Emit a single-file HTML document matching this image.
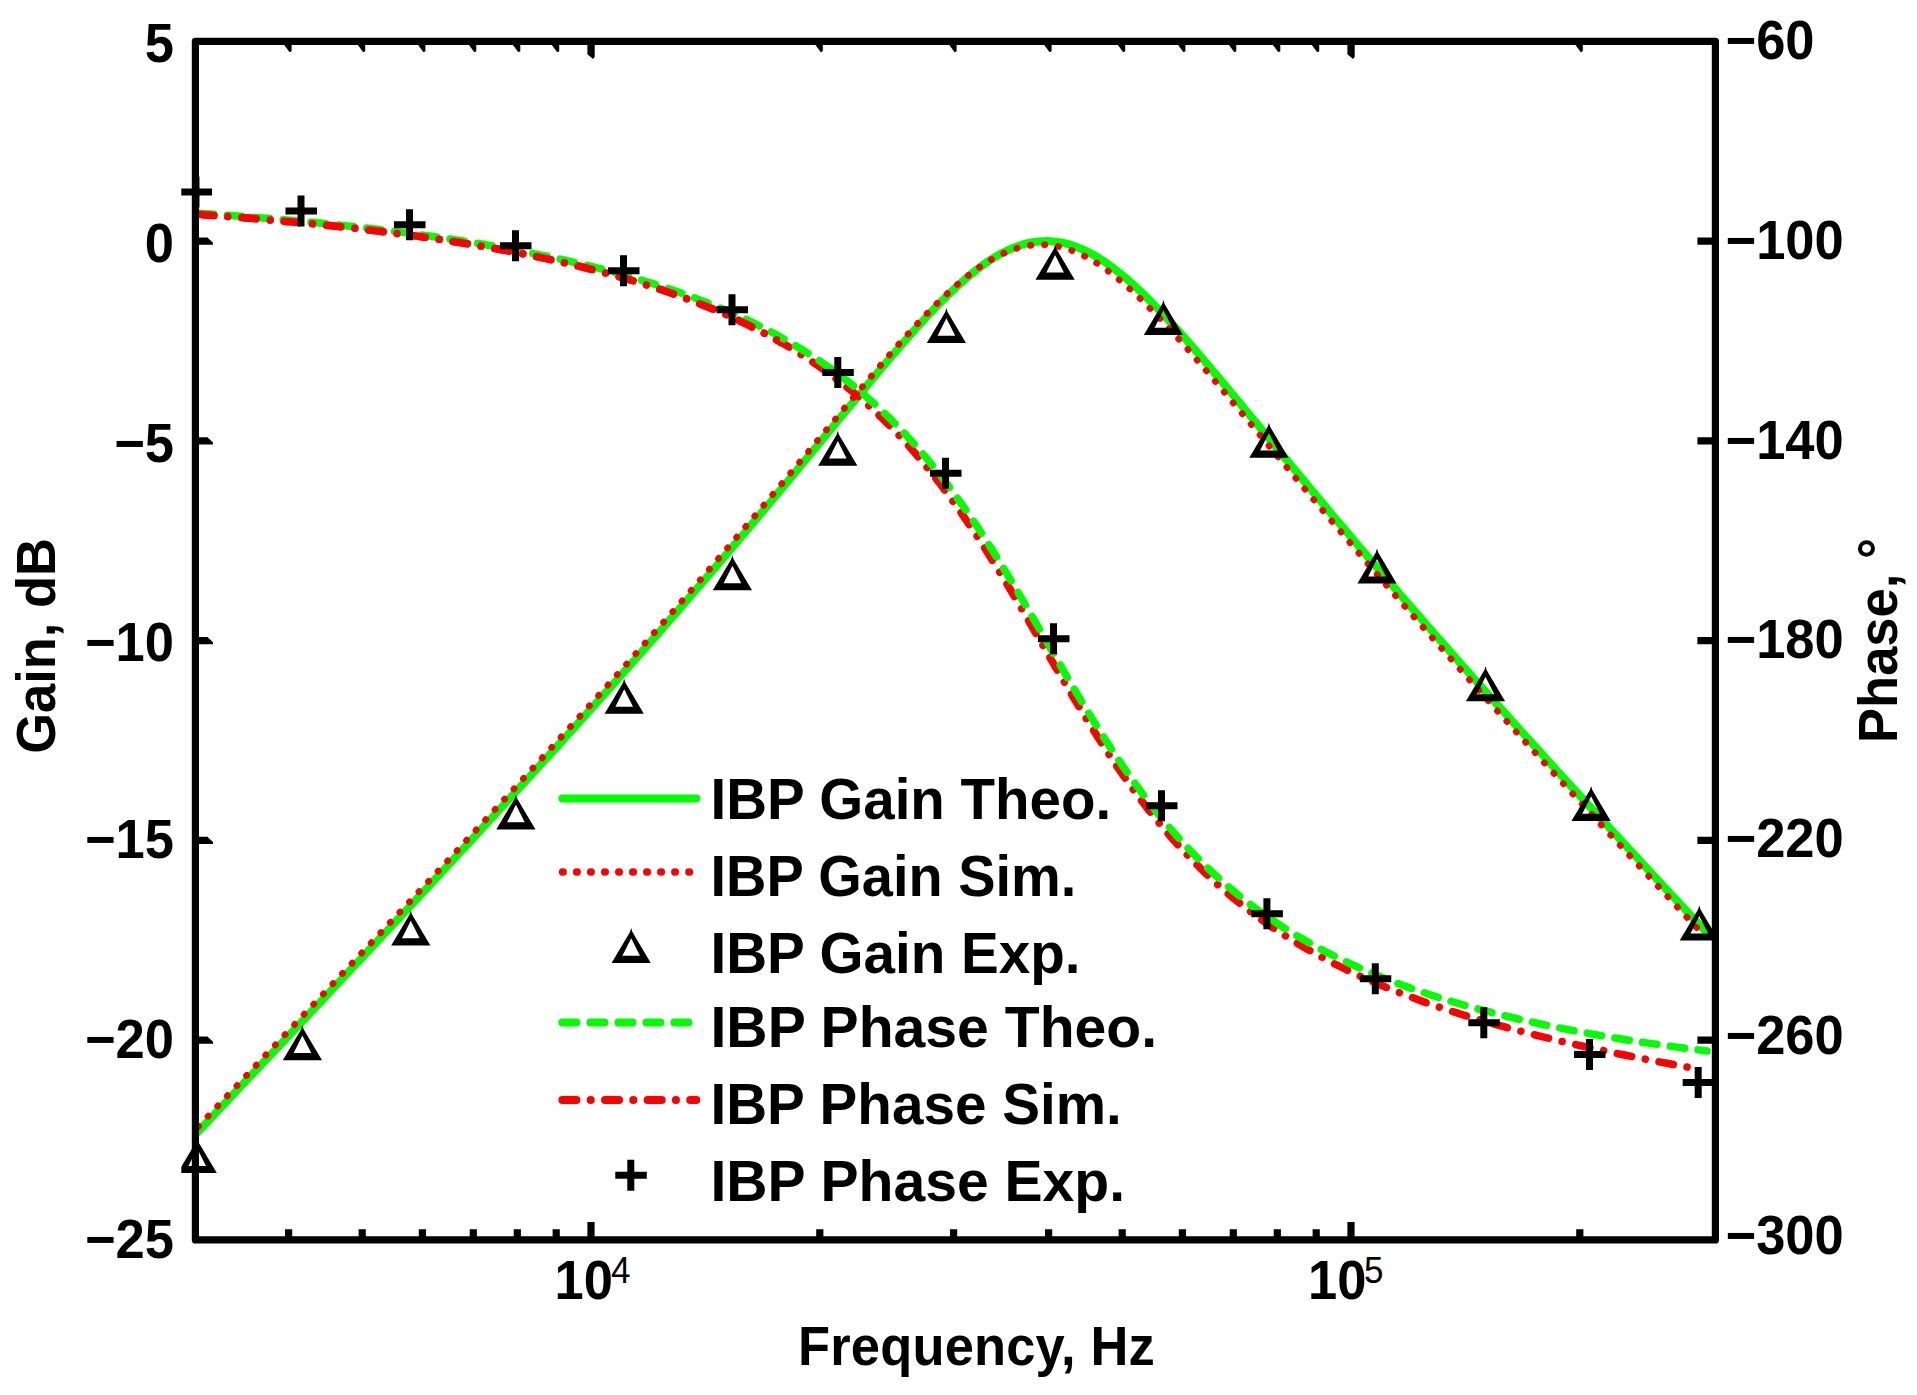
<!DOCTYPE html>
<html lang="en"><head><meta charset="utf-8"><title>IBP Gain and Phase</title>
<style>html,body{margin:0;padding:0;background:#fff}body{width:1917px;height:1395px;overflow:hidden}svg{display:block}text{font-family:"Liberation Sans",Arial,Helvetica,sans-serif;font-weight:bold;fill:#000}</style></head><body>
<svg width="1917" height="1395" viewBox="0 0 1917 1395">
<rect width="1917" height="1395" fill="#fff"/>
<defs><clipPath id="cp"><rect x="181.3" y="30" width="1537.7" height="1222"/></clipPath>
<clipPath id="cpk"><rect x="965" y="200" width="165" height="90"/></clipPath><clipPath id="cpl"><rect x="180" y="150" width="600" height="250"/></clipPath>
<path id="tri" d="M0 -35 L1.2 -31 L19.6 0 L-19.6 0 L-1.2 -31 Z M0 -24.6 L-8.8 -7.1 L8.8 -7.1 Z" fill="#000" fill-rule="evenodd"/>
<path id="plus" d="M-15.5 0 H16 M0 -15.5 V15.5" stroke="#000" stroke-width="7" fill="none"/>
</defs>
<path d="M591.0 1239.9 V1221.9 M1351.0 1239.9 V1221.9 M288.6 1239.9 V1229.2 M362.2 1239.9 V1229.2 M422.4 1239.9 V1229.2 M473.3 1239.9 V1229.2 M517.3 1239.9 V1229.2 M556.2 1239.9 V1229.2 M819.8 1239.9 V1229.2 M953.6 1239.9 V1229.2 M1048.6 1239.9 V1229.2 M1122.2 1239.9 V1229.2 M1182.4 1239.9 V1229.2 M1233.3 1239.9 V1229.2 M1277.3 1239.9 V1229.2 M1316.2 1239.9 V1229.2 M1579.8 1239.9 V1229.2 M1715.4 241.1 H1697.4 M1715.4 440.9 H1697.4 M1715.4 640.6 H1697.4 M1715.4 840.4 H1697.4 M1715.4 1040.2 H1697.4" stroke="#000" stroke-width="7.2" fill="none"/>
<path d="M587.4 41.3 H594.7 V56.8 L593.0 58.9 L587.4 54.3 Z M1347.4 41.3 H1354.7 V56.8 L1353.0 58.9 L1347.4 54.3 Z M284.1 41.3 H291.6 V51.3 L289.6 52.3 L284.1 44.8 Z M357.7 41.3 H365.2 V51.3 L363.2 52.3 L357.7 44.8 Z M417.9 41.3 H425.4 V51.3 L423.4 52.3 L417.9 44.8 Z M468.8 41.3 H476.3 V51.3 L474.3 52.3 L468.8 44.8 Z M512.8 41.3 H520.3 V51.3 L518.3 52.3 L512.8 44.8 Z M551.7 41.3 H559.2 V51.3 L557.2 52.3 L551.7 44.8 Z M815.3 41.3 H822.8 V51.3 L820.8 52.3 L815.3 44.8 Z M949.1 41.3 H956.6 V51.3 L954.6 52.3 L949.1 44.8 Z M1044.1 41.3 H1051.6 V51.3 L1049.6 52.3 L1044.1 44.8 Z M1117.7 41.3 H1125.2 V51.3 L1123.2 52.3 L1117.7 44.8 Z M1177.9 41.3 H1185.4 V51.3 L1183.4 52.3 L1177.9 44.8 Z M1228.8 41.3 H1236.3 V51.3 L1234.3 52.3 L1228.8 44.8 Z M1272.8 41.3 H1280.3 V51.3 L1278.3 52.3 L1272.8 44.8 Z M1311.7 41.3 H1319.2 V51.3 L1317.2 52.3 L1311.7 44.8 Z M1575.3 41.3 H1582.8 V51.3 L1580.8 52.3 L1575.3 44.8 Z M195.4 237.5 H207.4 L213.0 242.7 V244.7 H195.4 Z M195.4 437.3 H207.4 L213.0 442.5 V444.5 H195.4 Z M195.4 637.0 H207.4 L213.0 642.2 V644.2 H195.4 Z M195.4 836.8 H207.4 L213.0 842.0 V844.0 H195.4 Z M195.4 1036.6 H207.4 L213.0 1041.8 V1043.8 H195.4 Z" fill="#000"/>
<g clip-path="url(#cp)" fill="none" stroke-linejoin="round">
<path d="M196.4 1133.4 L201.4 1128.1 L206.5 1122.8 L211.5 1117.5 L216.6 1112.1 L221.6 1106.8 L226.6 1101.5 L231.7 1096.1 L236.7 1090.8 L241.7 1085.4 L246.8 1080.1 L251.8 1074.8 L256.9 1069.4 L261.9 1064.1 L266.9 1058.7 L272.0 1053.4 L277.0 1048.1 L282.1 1042.7 L287.1 1037.4 L292.1 1032.0 L297.2 1026.7 L302.2 1021.3 L307.3 1015.9 L312.3 1010.6 L317.3 1005.2 L322.4 999.9 L327.4 994.5 L332.4 989.1 L337.5 983.8 L342.5 978.4 L347.6 973.0 L352.6 967.6 L357.6 962.3 L362.7 956.9 L367.7 951.5 L372.8 946.1 L377.8 940.7 L382.8 935.3 L387.9 930.0 L392.9 924.6 L397.9 919.2 L403.0 913.8 L408.0 908.4 L413.1 902.9 L418.1 897.5 L423.1 892.1 L428.2 886.7 L433.2 881.3 L438.3 875.9 L443.3 870.4 L448.3 865.0 L453.4 859.6 L458.4 854.1 L463.4 848.7 L468.5 843.2 L473.5 837.8 L478.6 832.3 L483.6 826.8 L488.6 821.4 L493.7 815.9 L498.7 810.4 L503.8 804.9 L508.8 799.4 L513.8 793.9 L518.9 788.4 L523.9 782.9 L529.0 777.4 L534.0 771.9 L539.0 766.4 L544.1 760.8 L549.1 755.3 L554.1 749.8 L559.2 744.2 L564.2 738.6 L569.3 733.1 L574.3 727.5 L579.3 721.9 L584.4 716.3 L589.4 710.7 L594.5 705.1 L599.5 699.5 L604.5 693.8 L609.6 688.2 L614.6 682.6 L619.6 676.9 L624.7 671.2 L629.7 665.6 L634.8 659.9 L639.8 654.2 L644.8 648.5 L649.9 642.7 L654.9 637.0 L660.0 631.3 L665.0 625.5 L670.0 619.7 L675.1 614.0 L680.1 608.2 L685.2 602.4 L690.2 596.5 L695.2 590.7 L700.3 584.9 L705.3 579.0 L710.3 573.2 L715.4 567.3 L720.4 561.4 L725.5 555.5 L730.5 549.5 L735.5 543.6 L740.6 537.7 L745.6 531.7 L750.7 525.7 L755.7 519.7 L760.7 513.7 L765.8 507.7 L770.8 501.7 L775.8 495.7 L780.9 489.6 L785.9 483.5 L791.0 477.5 L796.0 471.4 L801.0 465.3 L806.1 459.2 L811.1 453.1 L816.2 447.0 L821.2 440.9 L826.2 434.8 L831.3 428.7 L836.3 422.5 L841.3 416.4 L846.4 410.3 L851.4 404.2 L856.5 398.1 L861.5 392.1 L866.5 386.0 L871.6 380.0 L876.6 373.9 L881.7 368.0 L886.7 362.0 L891.7 356.1 L896.8 350.3 L901.8 344.4 L906.9 338.7 L911.9 333.0 L916.9 327.4 L922.0 321.9 L927.0 316.4 L932.0 311.1 L937.1 305.8 L942.1 300.7 L947.2 295.7 L952.2 290.9 L957.2 286.2 L962.3 281.7 L967.3 277.3 L972.4 273.2 L977.4 269.2 L982.4 265.4 L987.5 261.9 L992.5 258.6 L997.5 255.6 L1002.6 252.8 L1007.6 250.3 L1012.7 248.1 L1017.7 246.2 L1022.7 244.5 L1027.8 243.2 L1032.8 242.2 L1037.9 241.5 L1042.9 241.2 L1047.9 241.1 L1053.0 241.4 L1058.0 242.0 L1063.1 242.9 L1068.1 244.2 L1073.1 245.7 L1078.2 247.6 L1083.2 249.7 L1088.2 252.1 L1093.3 254.8 L1098.3 257.8 L1103.4 261.0 L1108.4 264.5 L1113.4 268.2 L1118.5 272.1 L1123.5 276.2 L1128.6 280.5 L1133.6 285.0 L1138.6 289.6 L1143.7 294.5 L1148.7 299.4 L1153.7 304.5 L1158.8 309.7 L1163.8 315.0 L1168.9 320.4 L1173.9 325.9 L1178.9 331.5 L1184.0 337.2 L1189.0 342.9 L1194.1 348.7 L1199.1 354.6 L1204.1 360.5 L1209.2 366.4 L1214.2 372.4 L1219.2 378.4 L1224.3 384.4 L1229.3 390.5 L1234.4 396.5 L1239.4 402.6 L1244.4 408.7 L1249.5 414.8 L1254.5 420.9 L1259.6 427.0 L1264.6 433.2 L1269.6 439.3 L1274.7 445.4 L1279.7 451.5 L1284.8 457.6 L1289.8 463.7 L1294.8 469.8 L1299.9 475.9 L1304.9 481.9 L1309.9 488.0 L1315.0 494.1 L1320.0 500.1 L1325.1 506.1 L1330.1 512.2 L1335.1 518.2 L1340.2 524.1 L1345.2 530.1 L1350.3 536.1 L1355.3 542.0 L1360.3 548.0 L1365.4 553.9 L1370.4 559.8 L1375.4 565.7 L1380.5 571.6 L1385.5 577.5 L1390.6 583.3 L1395.6 589.2 L1400.6 595.0 L1405.7 600.8 L1410.7 606.6 L1415.8 612.4 L1420.8 618.2 L1425.8 624.0 L1430.9 629.7 L1435.9 635.5 L1441.0 641.2 L1446.0 646.9 L1451.0 652.7 L1456.1 658.4 L1461.1 664.1 L1466.1 669.7 L1471.2 675.4 L1476.2 681.1 L1481.3 686.7 L1486.3 692.4 L1491.3 698.0 L1496.4 703.6 L1501.4 709.2 L1506.5 714.8 L1511.5 720.4 L1516.5 726.0 L1521.6 731.6 L1526.6 737.2 L1531.6 742.7 L1536.7 748.3 L1541.7 753.8 L1546.8 759.4 L1551.8 764.9 L1556.8 770.4 L1561.9 776.0 L1566.9 781.5 L1572.0 787.0 L1577.0 792.5 L1582.0 798.0 L1587.1 803.5 L1592.1 809.0 L1597.1 814.5 L1602.2 819.9 L1607.2 825.4 L1612.3 830.9 L1617.3 836.3 L1622.3 841.8 L1627.4 847.2 L1632.4 852.7 L1637.5 858.1 L1642.5 863.6 L1647.5 869.0 L1652.6 874.4 L1657.6 879.9 L1662.7 885.3 L1667.7 890.7 L1672.7 896.1 L1677.8 901.5 L1682.8 906.9 L1687.8 912.3 L1692.9 917.7 L1697.9 923.1 L1703.0 928.5 L1708.0 933.9" stroke="#00ff00" stroke-width="8"/>
<path d="M198.4 1126.5 L203.4 1121.1 L208.4 1115.8 L213.5 1110.5 L218.5 1105.2 L223.5 1099.9 L228.5 1094.6 L233.5 1089.3 L238.5 1084.0 L243.6 1078.6 L248.6 1073.3 L253.6 1068.0 L258.6 1062.7 L263.6 1057.4 L268.7 1052.0 L273.7 1046.7 L278.7 1041.4 L283.7 1036.1 L288.7 1030.7 L293.8 1025.4 L298.8 1020.1 L303.8 1014.7 L308.8 1009.4 L313.8 1004.1 L318.8 998.7 L323.9 993.4 L328.9 988.0 L333.9 982.7 L338.9 977.3 L343.9 972.0 L349.0 966.6 L354.0 961.3 L359.0 955.9 L364.0 950.6 L369.0 945.2 L374.1 939.8 L379.1 934.5 L384.1 929.1 L389.1 923.7 L394.1 918.4 L399.1 913.0 L404.2 907.6 L409.2 902.2 L414.2 896.8 L419.2 891.4 L424.2 886.0 L429.3 880.6 L434.3 875.2 L439.3 869.8 L444.3 864.4 L449.3 859.0 L454.4 853.6 L459.4 848.2 L464.4 842.7 L469.4 837.3 L474.4 831.9 L479.4 826.4 L484.5 821.0 L489.5 815.5 L494.5 810.1 L499.5 804.6 L504.5 799.2 L509.6 793.7 L514.6 788.2 L519.6 782.7 L524.6 777.2 L529.6 771.7 L534.7 766.2 L539.7 760.7 L544.7 755.2 L549.7 749.7 L554.7 744.2 L559.7 738.6 L564.8 733.1 L569.8 727.5 L574.8 722.0 L579.8 716.4 L584.8 710.8 L589.9 705.3 L594.9 699.7 L599.9 694.1 L604.9 688.5 L609.9 682.8 L614.9 677.2 L620.0 671.6 L625.0 665.9 L630.0 660.3 L635.0 654.6 L640.0 648.9 L645.1 643.2 L650.1 637.5 L655.1 631.8 L660.1 626.1 L665.1 620.4 L670.2 614.6 L675.2 608.9 L680.2 603.1 L685.2 597.3 L690.2 591.5 L695.2 585.7 L700.3 579.9 L705.3 574.1 L710.3 568.2 L715.3 562.4 L720.3 556.5 L725.4 550.6 L730.4 544.7 L735.4 538.8 L740.4 532.9 L745.4 527.0 L750.5 521.0 L755.5 515.1 L760.5 509.1 L765.5 503.2 L770.5 497.2 L775.5 491.2 L780.6 485.2 L785.6 479.1 L790.6 473.1 L795.6 467.1 L800.6 461.0 L805.7 455.0 L810.7 448.9 L815.7 442.9 L820.7 436.8 L825.7 430.8 L830.8 424.7 L835.8 418.7 L840.8 412.6 L845.8 406.6 L850.8 400.6 L855.8 394.6 L860.9 388.6 L865.9 382.6 L870.9 376.7 L875.9 370.7 L880.9 364.9 L886.0 359.0 L891.0 353.2 L896.0 347.5 L901.0 341.8 L906.0 336.2 L911.1 330.7 L916.1 325.2 L921.1 319.8 L926.1 314.5 L931.1 309.4 L936.1 304.3 L941.2 299.4 L946.2 294.6 L951.2 290.0 L956.2 285.5 L961.2 281.2 L966.3 277.0 L971.3 273.1 L976.3 269.4 L981.3 265.9 L986.3 262.6 L991.3 259.6 L996.4 256.8 L1001.4 254.3 L1006.4 252.0 L1011.4 250.1 L1016.4 248.4 L1021.5 247.0 L1026.5 245.9 L1031.5 245.2 L1036.5 244.7 L1041.5 244.6 L1046.6 244.8 L1051.6 245.3 L1056.6 246.1 L1061.6 247.2 L1066.6 248.7 L1071.6 250.4 L1076.7 252.4 L1081.7 254.7 L1086.7 257.2 L1091.7 260.1 L1096.7 263.1 L1101.8 266.5 L1106.8 270.0 L1111.8 273.8 L1116.8 277.8 L1121.8 281.9 L1126.9 286.3 L1131.9 290.8 L1136.9 295.4 L1141.9 300.3 L1146.9 305.2 L1151.9 310.3 L1157.0 315.5 L1162.0 320.8 L1167.0 326.2 L1172.0 331.6 L1177.0 337.2 L1182.1 342.8 L1187.1 348.5 L1192.1 354.3 L1197.1 360.1 L1202.1 365.9 L1207.2 371.8 L1212.2 377.7 L1217.2 383.6 L1222.2 389.6 L1227.2 395.6 L1232.2 401.6 L1237.3 407.6 L1242.3 413.7 L1247.3 419.7 L1252.3 425.8 L1257.3 431.8 L1262.4 437.9 L1267.4 443.9 L1272.4 450.0 L1277.4 456.1 L1282.4 462.1 L1287.5 468.1 L1292.5 474.2 L1297.5 480.2 L1302.5 486.2 L1307.5 492.2 L1312.5 498.2 L1317.6 504.2 L1322.6 510.2 L1327.6 516.1 L1332.6 522.1 L1337.6 528.0 L1342.7 534.0 L1347.7 539.9 L1352.7 545.8 L1357.7 551.7 L1362.7 557.6 L1367.7 563.4 L1372.8 569.3 L1377.8 575.1 L1382.8 580.9 L1387.8 586.8 L1392.8 592.6 L1397.9 598.3 L1402.9 604.1 L1407.9 609.9 L1412.9 615.6 L1417.9 621.4 L1423.0 627.1 L1428.0 632.8 L1433.0 638.5 L1438.0 644.2 L1443.0 649.9 L1448.0 655.6 L1453.1 661.3 L1458.1 666.9 L1463.1 672.6 L1468.1 678.2 L1473.1 683.8 L1478.2 689.4 L1483.2 695.1 L1488.2 700.7 L1493.2 706.2 L1498.2 711.8 L1503.3 717.4 L1508.3 723.0 L1513.3 728.5 L1518.3 734.1 L1523.3 739.6 L1528.3 745.1 L1533.4 750.7 L1538.4 756.2 L1543.4 761.7 L1548.4 767.2 L1553.4 772.7 L1558.5 778.2 L1563.5 783.7 L1568.5 789.2 L1573.5 794.6 L1578.5 800.1 L1583.6 805.6 L1588.6 811.0 L1593.6 816.5 L1598.6 821.9 L1603.6 827.4 L1608.6 832.8 L1613.7 838.3 L1618.7 843.7 L1623.7 849.1 L1628.7 854.5 L1633.7 860.0 L1638.8 865.4 L1643.8 870.8 L1648.8 876.2 L1653.8 881.6 L1658.8 887.0 L1663.9 892.4 L1668.9 897.8 L1673.9 903.2 L1678.9 908.5 L1683.9 913.9 L1688.9 919.3 L1694.0 924.7 L1699.0 930.0 L1704.0 935.4" stroke="#ff0000" stroke-width="6.6" stroke-linecap="round" stroke-dasharray="0.5 13.5"/>
<use href="#tri" x="197.2" y="1173.1"/>
<use href="#tri" x="302.4" y="1060.2"/>
<use href="#tri" x="410.8" y="945.4"/>
<use href="#tri" x="515.9" y="829.4"/>
<use href="#tri" x="624.2" y="713.8"/>
<use href="#tri" x="732.4" y="590.3"/>
<use href="#tri" x="837.8" y="465.7"/>
<use href="#tri" x="946.4" y="342.9"/>
<use href="#tri" x="1055.1" y="279.7"/>
<use href="#tri" x="1163.4" y="334.9"/>
<use href="#tri" x="1268.9" y="457.7"/>
<use href="#tri" x="1377.0" y="583.5"/>
<use href="#tri" x="1485.5" y="701.3"/>
<use href="#tri" x="1591.1" y="820.9"/>
<use href="#tri" x="1699.3" y="940.5"/>
<path d="M196.4 214.2 L201.4 214.5 L206.4 214.9 L211.4 215.3 L216.4 215.6 L221.4 216.0 L226.4 216.4 L231.4 216.7 L236.4 217.1 L241.4 217.5 L246.4 217.9 L251.4 218.3 L256.4 218.7 L261.4 219.2 L266.4 219.6 L271.4 220.0 L276.4 220.5 L281.4 220.9 L286.4 221.4 L291.4 221.8 L296.4 222.3 L301.4 222.8 L306.4 223.2 L311.4 223.7 L316.4 224.2 L321.4 224.7 L326.5 225.2 L331.5 225.8 L336.5 226.3 L341.5 226.8 L346.5 227.4 L351.5 227.9 L356.5 228.5 L361.5 229.1 L366.5 229.7 L371.5 230.3 L376.5 230.9 L381.5 231.5 L386.5 232.1 L391.5 232.7 L396.5 233.4 L401.5 234.0 L406.5 234.7 L411.5 235.4 L416.5 236.1 L421.5 236.8 L426.5 237.5 L431.5 238.2 L436.5 238.9 L441.5 239.7 L446.5 240.4 L451.5 241.2 L456.5 242.0 L461.5 242.8 L466.5 243.6 L471.5 244.4 L476.5 245.3 L481.5 246.1 L486.5 247.0 L491.5 247.9 L496.5 248.8 L501.5 249.7 L506.5 250.6 L511.5 251.6 L516.5 252.5 L521.5 253.5 L526.5 254.5 L531.5 255.5 L536.5 256.6 L541.5 257.6 L546.5 258.7 L551.5 259.8 L556.5 260.9 L561.5 262.0 L566.5 263.2 L571.5 264.4 L576.6 265.6 L581.6 266.8 L586.6 268.0 L591.6 269.3 L596.6 270.6 L601.6 271.9 L606.6 273.2 L611.6 274.6 L616.6 276.0 L621.6 277.4 L626.6 278.8 L631.6 280.3 L636.6 281.8 L641.6 283.4 L646.6 284.9 L651.6 286.5 L656.6 288.1 L661.6 289.8 L666.6 291.5 L671.6 293.2 L676.6 295.0 L681.6 296.8 L686.6 298.7 L691.6 300.5 L696.6 302.5 L701.6 304.4 L706.6 306.4 L711.6 308.5 L716.6 310.6 L721.6 312.7 L726.6 314.9 L731.6 317.2 L736.6 319.5 L741.6 321.8 L746.6 324.2 L751.6 326.7 L756.6 329.2 L761.6 331.8 L766.6 334.4 L771.6 337.1 L776.6 339.9 L781.6 342.7 L786.6 345.6 L791.6 348.6 L796.6 351.7 L801.6 354.8 L806.6 358.0 L811.6 361.3 L816.6 364.7 L821.6 368.2 L826.7 371.8 L831.7 375.4 L836.7 379.2 L841.7 383.0 L846.7 387.0 L851.7 391.0 L856.7 395.2 L861.7 399.5 L866.7 403.9 L871.7 408.4 L876.7 413.1 L881.7 417.8 L886.7 422.7 L891.7 427.8 L896.7 432.9 L901.7 438.3 L906.7 443.7 L911.7 449.3 L916.7 455.0 L921.7 460.9 L926.7 467.0 L931.7 473.2 L936.7 479.5 L941.7 486.0 L946.7 492.7 L951.7 499.5 L956.7 506.4 L961.7 513.5 L966.7 520.8 L971.7 528.2 L976.7 535.7 L981.7 543.4 L986.7 551.2 L991.7 559.2 L996.7 567.2 L1001.7 575.4 L1006.7 583.7 L1011.7 592.0 L1016.7 600.4 L1021.7 608.9 L1026.7 617.5 L1031.7 626.1 L1036.7 634.7 L1041.7 643.3 L1046.7 651.9 L1051.7 660.6 L1056.7 669.2 L1061.7 677.7 L1066.7 686.2 L1071.8 694.7 L1076.8 703.0 L1081.8 711.3 L1086.8 719.5 L1091.8 727.5 L1096.8 735.5 L1101.8 743.3 L1106.8 751.1 L1111.8 758.6 L1116.8 766.1 L1121.8 773.4 L1126.8 780.5 L1131.8 787.5 L1136.8 794.3 L1141.8 801.0 L1146.8 807.6 L1151.8 813.9 L1156.8 820.2 L1161.8 826.2 L1166.8 832.2 L1171.8 838.0 L1176.8 843.6 L1181.8 849.1 L1186.8 854.4 L1191.8 859.6 L1196.8 864.7 L1201.8 869.7 L1206.8 874.5 L1211.8 879.2 L1216.8 883.8 L1221.8 888.2 L1226.8 892.6 L1231.8 896.8 L1236.8 900.9 L1241.8 904.9 L1246.8 908.8 L1251.8 912.6 L1256.8 916.4 L1261.8 920.0 L1266.8 923.5 L1271.8 927.0 L1276.8 930.3 L1281.8 933.6 L1286.8 936.8 L1291.8 939.9 L1296.8 943.0 L1301.8 946.0 L1306.8 948.9 L1311.8 951.7 L1316.8 954.5 L1321.9 957.2 L1326.9 959.9 L1331.9 962.5 L1336.9 965.0 L1341.9 967.5 L1346.9 970.0 L1351.9 972.3 L1356.9 974.7 L1361.9 977.0 L1366.9 979.2 L1371.9 981.4 L1376.9 983.5 L1381.9 985.6 L1386.9 987.7 L1391.9 989.7 L1396.9 991.7 L1401.9 993.7 L1406.9 995.6 L1411.9 997.4 L1416.9 999.3 L1421.9 1001.1 L1426.9 1002.9 L1431.9 1004.6 L1436.9 1006.3 L1441.9 1008.0 L1446.9 1009.7 L1451.9 1011.3 L1456.9 1012.9 L1461.9 1014.5 L1466.9 1016.0 L1471.9 1017.5 L1476.9 1019.0 L1481.9 1020.5 L1486.9 1022.0 L1491.9 1023.4 L1496.9 1024.8 L1501.9 1026.2 L1506.9 1027.5 L1511.9 1028.9 L1516.9 1030.2 L1521.9 1031.5 L1526.9 1032.8 L1531.9 1034.1 L1536.9 1035.4 L1541.9 1036.6 L1546.9 1037.8 L1551.9 1039.0 L1556.9 1040.2 L1561.9 1041.4 L1566.9 1042.6 L1572.0 1043.7 L1577.0 1044.8 L1582.0 1046.0 L1587.0 1047.1 L1592.0 1048.2 L1597.0 1049.2 L1602.0 1050.3 L1607.0 1051.4 L1612.0 1052.4 L1617.0 1053.5 L1622.0 1054.5 L1627.0 1055.5 L1632.0 1056.5 L1637.0 1057.5 L1642.0 1058.5 L1647.0 1059.5 L1652.0 1060.4 L1657.0 1061.4 L1662.0 1062.4 L1667.0 1063.3 L1672.0 1064.3 L1677.0 1065.2 L1682.0 1066.1 L1687.0 1067.0 L1692.0 1067.9 L1697.0 1068.8" stroke="#ff0000" stroke-width="7.5" stroke-linecap="round" stroke-dasharray="14.5 14 0.01 14" stroke-dashoffset="-3"/>
<path d="M196.4 213.0 L201.4 213.4 L206.5 213.7 L211.5 214.1 L216.5 214.4 L221.6 214.8 L226.6 215.1 L231.6 215.5 L236.7 215.9 L241.7 216.3 L246.8 216.7 L251.8 217.1 L256.8 217.5 L261.9 217.9 L266.9 218.3 L271.9 218.7 L277.0 219.1 L282.0 219.6 L287.0 220.0 L292.1 220.5 L297.1 220.9 L302.1 221.4 L307.2 221.9 L312.2 222.3 L317.2 222.8 L322.3 223.3 L327.3 223.8 L332.4 224.3 L337.4 224.9 L342.4 225.4 L347.5 225.9 L352.5 226.5 L357.5 227.0 L362.6 227.6 L367.6 228.2 L372.6 228.7 L377.7 229.3 L382.7 229.9 L387.7 230.5 L392.8 231.2 L397.8 231.8 L402.8 232.4 L407.9 233.1 L412.9 233.8 L418.0 234.4 L423.0 235.1 L428.0 235.8 L433.1 236.5 L438.1 237.2 L443.1 238.0 L448.2 238.7 L453.2 239.5 L458.2 240.3 L463.3 241.0 L468.3 241.8 L473.3 242.6 L478.4 243.5 L483.4 244.3 L488.4 245.2 L493.5 246.0 L498.5 246.9 L503.6 247.8 L508.6 248.7 L513.6 249.7 L518.7 250.6 L523.7 251.6 L528.7 252.6 L533.8 253.6 L538.8 254.6 L543.8 255.6 L548.9 256.7 L553.9 257.8 L558.9 258.8 L564.0 260.0 L569.0 261.1 L574.0 262.3 L579.1 263.4 L584.1 264.6 L589.2 265.9 L594.2 267.1 L599.2 268.4 L604.3 269.7 L609.3 271.0 L614.3 272.3 L619.4 273.7 L624.4 275.1 L629.4 276.5 L634.5 278.0 L639.5 279.5 L644.5 281.0 L649.6 282.5 L654.6 284.1 L659.7 285.7 L664.7 287.4 L669.7 289.0 L674.8 290.7 L679.8 292.5 L684.8 294.3 L689.9 296.1 L694.9 298.0 L699.9 299.9 L705.0 301.8 L710.0 303.8 L715.0 305.8 L720.1 307.9 L725.1 310.0 L730.1 312.2 L735.2 314.4 L740.2 316.7 L745.3 319.0 L750.3 321.4 L755.3 323.9 L760.4 326.4 L765.4 328.9 L770.4 331.6 L775.5 334.2 L780.5 337.0 L785.5 339.8 L790.6 342.7 L795.6 345.7 L800.6 348.7 L805.7 351.9 L810.7 355.1 L815.7 358.4 L820.8 361.7 L825.8 365.2 L830.9 368.7 L835.9 372.4 L840.9 376.1 L846.0 380.0 L851.0 384.0 L856.0 388.0 L861.1 392.2 L866.1 396.5 L871.1 400.9 L876.2 405.4 L881.2 410.1 L886.2 414.9 L891.3 419.8 L896.3 424.9 L901.3 430.1 L906.4 435.4 L911.4 440.9 L916.5 446.5 L921.5 452.3 L926.5 458.2 L931.6 464.3 L936.6 470.6 L941.6 477.0 L946.7 483.5 L951.7 490.3 L956.7 497.2 L961.8 504.2 L966.8 511.4 L971.8 518.7 L976.9 526.2 L981.9 533.9 L986.9 541.7 L992.0 549.6 L997.0 557.6 L1002.1 565.8 L1007.1 574.1 L1012.1 582.4 L1017.2 590.9 L1022.2 599.4 L1027.2 608.0 L1032.3 616.7 L1037.3 625.4 L1042.3 634.1 L1047.4 642.8 L1052.4 651.6 L1057.4 660.3 L1062.5 669.0 L1067.5 677.6 L1072.5 686.2 L1077.6 694.7 L1082.6 703.1 L1087.7 711.4 L1092.7 719.6 L1097.7 727.7 L1102.8 735.7 L1107.8 743.6 L1112.8 751.3 L1117.9 758.8 L1122.9 766.3 L1127.9 773.5 L1133.0 780.6 L1138.0 787.6 L1143.0 794.4 L1148.1 801.0 L1153.1 807.5 L1158.1 813.9 L1163.2 820.0 L1168.2 826.0 L1173.3 831.9 L1178.3 837.6 L1183.3 843.2 L1188.4 848.6 L1193.4 853.8 L1198.4 859.0 L1203.5 863.9 L1208.5 868.8 L1213.5 873.5 L1218.6 878.1 L1223.6 882.6 L1228.6 886.9 L1233.7 891.2 L1238.7 895.3 L1243.7 899.3 L1248.8 903.2 L1253.8 907.0 L1258.9 910.7 L1263.9 914.3 L1268.9 917.8 L1274.0 921.2 L1279.0 924.6 L1284.0 927.8 L1289.1 931.0 L1294.1 934.0 L1299.1 937.0 L1304.2 940.0 L1309.2 942.8 L1314.2 945.6 L1319.3 948.3 L1324.3 951.0 L1329.4 953.6 L1334.4 956.1 L1339.4 958.6 L1344.5 961.0 L1349.5 963.4 L1354.5 965.7 L1359.6 967.9 L1364.6 970.1 L1369.6 972.3 L1374.7 974.4 L1379.7 976.4 L1384.7 978.4 L1389.8 980.4 L1394.8 982.3 L1399.8 984.2 L1404.9 986.1 L1409.9 987.9 L1415.0 989.6 L1420.0 991.4 L1425.0 993.0 L1430.1 994.7 L1435.1 996.3 L1440.1 997.9 L1445.2 999.5 L1450.2 1001.0 L1455.2 1002.5 L1460.3 1004.0 L1465.3 1005.4 L1470.3 1006.8 L1475.4 1008.2 L1480.4 1009.6 L1485.4 1010.9 L1490.5 1012.2 L1495.5 1013.5 L1500.6 1014.8 L1505.6 1016.0 L1510.6 1017.2 L1515.7 1018.4 L1520.7 1019.6 L1525.7 1020.7 L1530.8 1021.8 L1535.8 1022.9 L1540.8 1024.0 L1545.9 1025.1 L1550.9 1026.1 L1555.9 1027.1 L1561.0 1028.2 L1566.0 1029.1 L1571.0 1030.1 L1576.1 1031.1 L1581.1 1032.0 L1586.2 1032.9 L1591.2 1033.9 L1596.2 1034.7 L1601.3 1035.6 L1606.3 1036.5 L1611.3 1037.3 L1616.4 1038.2 L1621.4 1039.0 L1626.4 1039.8 L1631.5 1040.6 L1636.5 1041.4 L1641.5 1042.1 L1646.6 1042.9 L1651.6 1043.6 L1656.6 1044.3 L1661.7 1045.0 L1666.7 1045.8 L1671.8 1046.4 L1676.8 1047.1 L1681.8 1047.8 L1686.9 1048.5 L1691.9 1049.1 L1696.9 1049.7 L1702.0 1050.4 L1707.0 1051.0" stroke="#00ff00" stroke-width="7.5" stroke-linecap="round" stroke-dasharray="14.5 13.5" stroke-dashoffset="-3"/>
<path d="M196.4 214.2 L201.4 214.5 L206.4 214.9 L211.4 215.3 L216.4 215.6 L221.4 216.0 L226.4 216.4 L231.4 216.7 L236.4 217.1 L241.4 217.5 L246.4 217.9 L251.4 218.3 L256.4 218.7 L261.4 219.2 L266.4 219.6 L271.4 220.0 L276.4 220.5 L281.4 220.9 L286.4 221.4 L291.4 221.8 L296.4 222.3 L301.4 222.8 L306.4 223.2 L311.4 223.7 L316.4 224.2 L321.4 224.7 L326.5 225.2 L331.5 225.8 L336.5 226.3 L341.5 226.8 L346.5 227.4 L351.5 227.9 L356.5 228.5 L361.5 229.1 L366.5 229.7 L371.5 230.3 L376.5 230.9 L381.5 231.5 L386.5 232.1 L391.5 232.7 L396.5 233.4 L401.5 234.0 L406.5 234.7 L411.5 235.4 L416.5 236.1 L421.5 236.8 L426.5 237.5 L431.5 238.2 L436.5 238.9 L441.5 239.7 L446.5 240.4 L451.5 241.2 L456.5 242.0 L461.5 242.8 L466.5 243.6 L471.5 244.4 L476.5 245.3 L481.5 246.1 L486.5 247.0 L491.5 247.9 L496.5 248.8 L501.5 249.7 L506.5 250.6 L511.5 251.6 L516.5 252.5 L521.5 253.5 L526.5 254.5 L531.5 255.5 L536.5 256.6 L541.5 257.6 L546.5 258.7 L551.5 259.8 L556.5 260.9 L561.5 262.0 L566.5 263.2 L571.5 264.4 L576.6 265.6 L581.6 266.8 L586.6 268.0 L591.6 269.3 L596.6 270.6 L601.6 271.9 L606.6 273.2 L611.6 274.6 L616.6 276.0 L621.6 277.4 L626.6 278.8 L631.6 280.3 L636.6 281.8 L641.6 283.4 L646.6 284.9 L651.6 286.5 L656.6 288.1 L661.6 289.8 L666.6 291.5 L671.6 293.2 L676.6 295.0 L681.6 296.8 L686.6 298.7 L691.6 300.5 L696.6 302.5 L701.6 304.4 L706.6 306.4 L711.6 308.5 L716.6 310.6 L721.6 312.7 L726.6 314.9 L731.6 317.2 L736.6 319.5 L741.6 321.8 L746.6 324.2 L751.6 326.7 L756.6 329.2 L761.6 331.8 L766.6 334.4 L771.6 337.1 L776.6 339.9 L781.6 342.7 L786.6 345.6 L791.6 348.6 L796.6 351.7 L801.6 354.8 L806.6 358.0 L811.6 361.3 L816.6 364.7 L821.6 368.2 L826.7 371.8 L831.7 375.4 L836.7 379.2 L841.7 383.0 L846.7 387.0 L851.7 391.0 L856.7 395.2 L861.7 399.5 L866.7 403.9 L871.7 408.4 L876.7 413.1 L881.7 417.8 L886.7 422.7 L891.7 427.8 L896.7 432.9 L901.7 438.3 L906.7 443.7 L911.7 449.3 L916.7 455.0 L921.7 460.9 L926.7 467.0 L931.7 473.2 L936.7 479.5 L941.7 486.0 L946.7 492.7 L951.7 499.5 L956.7 506.4 L961.7 513.5 L966.7 520.8 L971.7 528.2 L976.7 535.7 L981.7 543.4 L986.7 551.2 L991.7 559.2 L996.7 567.2 L1001.7 575.4 L1006.7 583.7 L1011.7 592.0 L1016.7 600.4 L1021.7 608.9 L1026.7 617.5 L1031.7 626.1 L1036.7 634.7 L1041.7 643.3 L1046.7 651.9 L1051.7 660.6 L1056.7 669.2 L1061.7 677.7 L1066.7 686.2 L1071.8 694.7 L1076.8 703.0 L1081.8 711.3 L1086.8 719.5 L1091.8 727.5 L1096.8 735.5 L1101.8 743.3 L1106.8 751.1 L1111.8 758.6 L1116.8 766.1 L1121.8 773.4 L1126.8 780.5 L1131.8 787.5 L1136.8 794.3 L1141.8 801.0 L1146.8 807.6 L1151.8 813.9 L1156.8 820.2 L1161.8 826.2 L1166.8 832.2 L1171.8 838.0 L1176.8 843.6 L1181.8 849.1 L1186.8 854.4 L1191.8 859.6 L1196.8 864.7 L1201.8 869.7 L1206.8 874.5 L1211.8 879.2 L1216.8 883.8 L1221.8 888.2 L1226.8 892.6 L1231.8 896.8 L1236.8 900.9 L1241.8 904.9 L1246.8 908.8 L1251.8 912.6 L1256.8 916.4 L1261.8 920.0 L1266.8 923.5 L1271.8 927.0 L1276.8 930.3 L1281.8 933.6 L1286.8 936.8 L1291.8 939.9 L1296.8 943.0 L1301.8 946.0 L1306.8 948.9 L1311.8 951.7 L1316.8 954.5 L1321.9 957.2 L1326.9 959.9 L1331.9 962.5 L1336.9 965.0 L1341.9 967.5 L1346.9 970.0 L1351.9 972.3 L1356.9 974.7 L1361.9 977.0 L1366.9 979.2 L1371.9 981.4 L1376.9 983.5 L1381.9 985.6 L1386.9 987.7 L1391.9 989.7 L1396.9 991.7 L1401.9 993.7 L1406.9 995.6 L1411.9 997.4 L1416.9 999.3 L1421.9 1001.1 L1426.9 1002.9 L1431.9 1004.6 L1436.9 1006.3 L1441.9 1008.0 L1446.9 1009.7 L1451.9 1011.3 L1456.9 1012.9 L1461.9 1014.5 L1466.9 1016.0 L1471.9 1017.5 L1476.9 1019.0 L1481.9 1020.5 L1486.9 1022.0 L1491.9 1023.4 L1496.9 1024.8 L1501.9 1026.2 L1506.9 1027.5 L1511.9 1028.9 L1516.9 1030.2 L1521.9 1031.5 L1526.9 1032.8 L1531.9 1034.1 L1536.9 1035.4 L1541.9 1036.6 L1546.9 1037.8 L1551.9 1039.0 L1556.9 1040.2 L1561.9 1041.4 L1566.9 1042.6 L1572.0 1043.7 L1577.0 1044.8 L1582.0 1046.0 L1587.0 1047.1 L1592.0 1048.2 L1597.0 1049.2 L1602.0 1050.3 L1607.0 1051.4 L1612.0 1052.4 L1617.0 1053.5 L1622.0 1054.5 L1627.0 1055.5 L1632.0 1056.5 L1637.0 1057.5 L1642.0 1058.5 L1647.0 1059.5 L1652.0 1060.4 L1657.0 1061.4 L1662.0 1062.4 L1667.0 1063.3 L1672.0 1064.3 L1677.0 1065.2 L1682.0 1066.1 L1687.0 1067.0 L1692.0 1067.9 L1697.0 1068.8" stroke="#ff0000" stroke-width="7.5" stroke-linecap="round" stroke-dasharray="14.5 14 0.01 14" stroke-dashoffset="-3" clip-path="url(#cpl)"/>
<use href="#plus" x="196.0" y="192.1"/>
<use href="#plus" x="301.0" y="211.0"/>
<use href="#plus" x="409.5" y="224.8"/>
<use href="#plus" x="515.5" y="245.8"/>
<use href="#plus" x="623.5" y="270.8"/>
<use href="#plus" x="732.0" y="309.8"/>
<use href="#plus" x="837.8" y="372.5"/>
<use href="#plus" x="945.5" y="473.3"/>
<use href="#plus" x="1053.5" y="638.7"/>
<use href="#plus" x="1161.5" y="805.7"/>
<use href="#plus" x="1266.9" y="913.8"/>
<use href="#plus" x="1375.3" y="978.8"/>
<use href="#plus" x="1483.8" y="1022.7"/>
<use href="#plus" x="1589.5" y="1054.5"/>
<use href="#plus" x="1698.2" y="1082.5"/>
</g>
<rect x="195.4" y="41.3" width="1520.0" height="1198.6" fill="none" stroke="#000" stroke-width="7.2" stroke-linejoin="round"/>
<text transform="translate(174.0 62.2) scale(1.0000 1.0450)" font-size="52.5" text-anchor="end">5</text>
<text transform="translate(174.0 262.3) scale(1.0000 1.0450)" font-size="52.5" text-anchor="end">0</text>
<text transform="translate(174.0 461.8) scale(1.0000 1.0450)" font-size="52.5" text-anchor="end">−5</text>
<text transform="translate(174.0 661.4) scale(1.0000 1.0450)" font-size="52.5" text-anchor="end">−10</text>
<text transform="translate(174.0 858.3) scale(1.0000 1.0450)" font-size="52.5" text-anchor="end">−15</text>
<text transform="translate(174.0 1057.6) scale(1.0000 1.0450)" font-size="52.5" text-anchor="end">−20</text>
<text transform="translate(174.0 1257.6) scale(1.0000 1.0450)" font-size="52.5" text-anchor="end">−25</text>
<text transform="translate(1725.5 59.2) scale(1.0000 1.0450)" font-size="52.5">−60</text>
<text transform="translate(1725.5 258.6) scale(1.0000 1.0450)" font-size="52.5">−100</text>
<text transform="translate(1725.5 458.5) scale(1.0000 1.0450)" font-size="52.5">−140</text>
<text transform="translate(1725.5 657.8) scale(1.0000 1.0450)" font-size="52.5">−180</text>
<text transform="translate(1725.5 857.4) scale(1.0000 1.0450)" font-size="52.5">−220</text>
<text transform="translate(1725.5 1053.9) scale(1.0000 1.0450)" font-size="52.5">−260</text>
<text transform="translate(1725.5 1253.9) scale(1.0000 1.0450)" font-size="52.5">−300</text>
<text transform="translate(554.5 1299.0) scale(1.0000 1.0450)" font-size="52.5">10</text>
<text transform="translate(611.0 1282.6) scale(1.0000 1.0450)" font-size="35.0" style="font-weight:normal">4</text>
<text transform="translate(1308.0 1299.0) scale(1.0000 1.0450)" font-size="52.5">10</text>
<text transform="translate(1364.0 1282.6) scale(1.0000 1.0450)" font-size="35.0" style="font-weight:normal">5</text>
<text transform="translate(976.5 1365.3) scale(1.0000 1.0450)" font-size="52.5" text-anchor="middle" letter-spacing="0.15">Frequency, Hz</text>
<text transform="translate(55.2 645.9) rotate(-90) scale(1.0000 1.0450)" font-size="52.5" text-anchor="middle">Gain, dB</text>
<text transform="translate(1897.3 640.5) rotate(-90) scale(1.0000 1.0450)" font-size="52.5" text-anchor="middle">Phase, °</text>
<g fill="none" stroke-linecap="round">
<path d="M562.4 798.4 H696.3" stroke="#00ff00" stroke-width="8"/>
<path d="M562.6 871.9 H690.0" stroke="#ff0000" stroke-width="7.5" stroke-dasharray="0.5 13.53"/>
<path d="M562.4 1022.6 H689.0" stroke="#00ff00" stroke-width="8" stroke-dasharray="14 14"/>
<path d="M562.4 1099.9 H696.3" stroke="#ff0000" stroke-width="8" stroke-dasharray="14 14.3 0.01 14.3"/>
</g>
<use href="#tri" x="631.2" y="962.9"/>
<use href="#plus" x="630.8" y="1175.2"/>
<text transform="translate(710.5 819.3) scale(0.9910 1.0220)" font-size="57.0">IBP Gain Theo.</text>
<text transform="translate(710.5 896.1) scale(0.9820 1.0220)" font-size="57.0">IBP Gain Sim.</text>
<text transform="translate(710.5 972.9) scale(0.9930 1.0220)" font-size="57.0">IBP Gain Exp.</text>
<text transform="translate(710.5 1046.9) scale(1.0025 1.0220)" font-size="57.0">IBP Phase Theo.</text>
<text transform="translate(710.5 1123.7) scale(0.9936 1.0220)" font-size="57.0">IBP Phase Sim.</text>
<text transform="translate(710.5 1201.3) scale(1.0017 1.0220)" font-size="57.0">IBP Phase Exp.</text>
</svg></body></html>
